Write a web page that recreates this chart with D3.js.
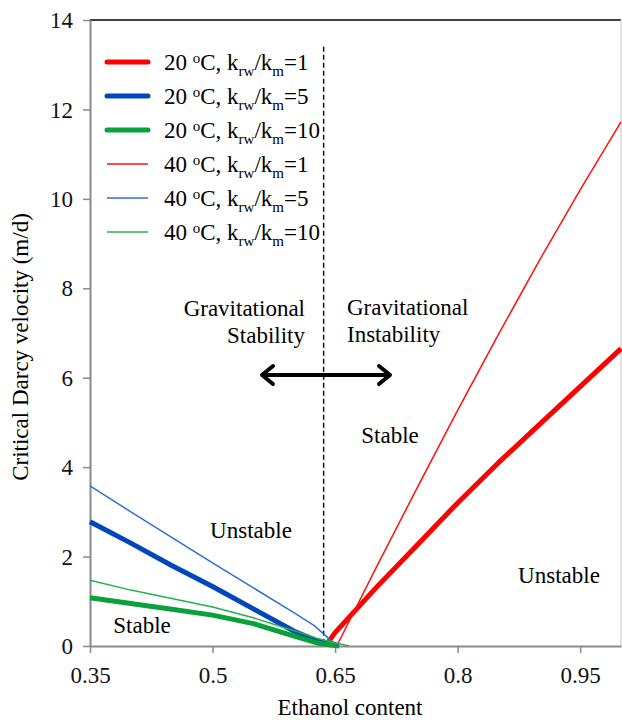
<!DOCTYPE html>
<html>
<head>
<meta charset="utf-8">
<script src="https://cdn.jsdelivr.net/npm/d3@7"></script>
<style>
  body { margin: 0; background: #fff; }
  svg { display: block; font-family: "Liberation Serif", "DejaVu Serif", serif; }
  svg text { font-family: "Liberation Serif", "DejaVu Serif", serif; }
</style>
</head>
<body>
<svg class="chart"></svg>
<script>
// tick values
const xTicks = [0.35, 0.5, 0.65, 0.8, 0.95];
const yTicks = [0, 2, 4, 6, 8, 10, 12, 14];

// 20 oC curves
const x20k1 = [0.641, 0.65, 0.7, 0.75, 0.8, 0.85, 0.9, 0.95, 1.0];
const y20k1 = [0.07, 0.3, 1.3, 2.25, 3.2, 4.1, 4.95, 5.8, 6.65];
const x20k5 = [0.35, 0.4, 0.45, 0.5, 0.55, 0.6, 0.63, 0.645];
const y20k5 = [2.78, 2.3, 1.8, 1.33, 0.83, 0.33, 0.1, 0.02];
const x20k10 = [0.35, 0.4, 0.45, 0.5, 0.55, 0.6, 0.63, 0.655];
const y20k10 = [1.08, 0.95, 0.82, 0.69, 0.5, 0.22, 0.06, 0.0];

// 40 oC curves
const x40k1 = [0.652, 0.7, 0.75, 0.8, 0.85, 0.9, 0.95, 1.0];
const y40k1 = [0.0, 1.74, 3.52, 5.27, 6.97, 8.62, 10.2, 11.72];
const x40k5 = [0.35, 0.4, 0.45, 0.5, 0.55, 0.6, 0.625, 0.645, 0.655];
const y40k5 = [3.58, 3.0, 2.43, 1.86, 1.3, 0.74, 0.45, 0.12, 0.0];
const x40k10 = [0.35, 0.4, 0.45, 0.5, 0.55, 0.6, 0.63, 0.667];
const y40k10 = [1.47, 1.25, 1.06, 0.87, 0.63, 0.34, 0.16, 0.0];

const seriesList = [
  {temp: "20", ratio: "1", xs: x20k1, ys: y20k1, color: "#ff0000", w: 5},
  {temp: "20", ratio: "5", xs: x20k5, ys: y20k5, color: "#0047bf", w: 5},
  {temp: "20", ratio: "10", xs: x20k10, ys: y20k10, color: "#0aa03c", w: 5},
  {temp: "40", ratio: "1", xs: x40k1, ys: y40k1, color: "#ff1010", w: 1.5},
  {temp: "40", ratio: "5", xs: x40k5, ys: y40k5, color: "#2c6fd8", w: 1.5},
  {temp: "40", ratio: "10", xs: x40k10, ys: y40k10, color: "#22b24a", w: 1.5}
];

// boundary between gravitational stability / instability
const boundaryX = 0.636;
const boundaryTop = 13.4;

var margin = {top: 20, right: 1, bottom: 74, left: 90},
    width = 622 - margin.left - margin.right,
    height = 720 - margin.top - margin.bottom;

var x = d3.scaleLinear().domain([0.35, 1.0]).range([0, width]);
var y = d3.scaleLinear().domain([0, 14]).range([height, 0]);

const svg = d3.select("svg.chart")
    .attr("width", 622)
    .attr("height", 720)
  .append("g")
    .attr("transform", "translate(" + margin.left + "," + margin.top + ")");

// frame: top dark, right light
svg.append("line")
    .attr("x1", 0).attr("x2", width).attr("y1", 0).attr("y2", 0)
    .style("stroke", "#404040").style("stroke-width", 2);
svg.append("line")
    .attr("x1", width).attr("x2", width).attr("y1", 0).attr("y2", height)
    .style("stroke", "#c8c8c8").style("stroke-width", 1);

// axes
var xAxis = svg.append("g")
    .attr("transform", "translate(0," + height + ")")
    .call(d3.axisBottom(x).tickValues(xTicks).tickSize(7).tickSizeOuter(0)
      .tickFormat(function(d) { return String(d); }));
var yAxis = svg.append("g")
    .call(d3.axisLeft(y).tickValues(yTicks).tickSize(7).tickSizeOuter(0));

[xAxis, yAxis].forEach(function(a) {
  a.attr("font-family", null).attr("font-size", null);
  a.select(".domain").style("stroke", "#8a8a8a").style("stroke-width", 2);
  a.selectAll(".tick line").style("stroke", "#8a8a8a").style("stroke-width", 1.5);
  a.selectAll(".tick text")
    .style("font-size", "23px")
    .style("fill", "#111");
});
xAxis.selectAll(".tick text").attr("dy", 0).attr("y", 37);
yAxis.selectAll(".tick text").attr("x", -17).attr("dy", "0.33em");

// axis titles
svg.append("text")
    .attr("x", 260)
    .attr("y", 695)
    .attr("text-anchor", "middle")
    .style("font-size", "23px")
    .text("Ethanol content");
svg.append("text")
    .attr("transform", "translate(-62,327) rotate(-90)")
    .attr("text-anchor", "middle")
    .style("font-size", "23px")
    .text("Critical Darcy velocity (m/d)");

// dashed boundary
svg.append("line")
    .attr("x1", x(boundaryX)).attr("x2", x(boundaryX))
    .attr("y1", y(boundaryTop)).attr("y2", y(0))
    .style("stroke", "#111").style("stroke-width", 1.5)
    .style("stroke-dasharray", "5,3");

// curves
var line = d3.line()
    .x(function(d) { return x(d[0]); })
    .y(function(d) { return y(d[1]); });

seriesList.forEach(function(s) {
  svg.append("path")
      .datum(d3.zip(s.xs, s.ys))
      .attr("d", line)
      .style("fill", "none")
      .style("stroke", s.color)
      .style("stroke-width", s.w)
      .style("stroke-linejoin", "round");
});

// region labels
function label(txt, px, py, anchor) {
  svg.append("text")
      .attr("x", px).attr("y", py)
      .attr("text-anchor", anchor || "middle")
      .style("font-size", "23px")
      .text(txt);
}
label("Gravitational", 215, 296, "end");
label("Stability", 215, 323, "end");
label("Gravitational", 257, 295, "start");
label("Instability", 257, 322, "start");
label("Unstable", 161, 518);
label("Stable", 52, 613);
label("Stable", 300, 423);
label("Unstable", 469, 563);

// double arrow
var ay = 355, ax1 = 172, ax2 = 300;
svg.append("line")
    .attr("x1", ax1 + 2).attr("x2", ax2 - 2).attr("y1", ay).attr("y2", ay)
    .style("stroke", "#000").style("stroke-width", 4);
svg.append("path")
    .attr("d", "M" + (ax1 + 11) + "," + (ay - 9) + "L" + ax1 + "," + ay + "L" + (ax1 + 11) + "," + (ay + 9))
    .style("fill", "none").style("stroke", "#000").style("stroke-width", 4)
    .style("stroke-linecap", "round").style("stroke-linejoin", "round");
svg.append("path")
    .attr("d", "M" + (ax2 - 11) + "," + (ay - 9) + "L" + ax2 + "," + ay + "L" + (ax2 - 11) + "," + (ay + 9))
    .style("fill", "none").style("stroke", "#000").style("stroke-width", 4)
    .style("stroke-linecap", "round").style("stroke-linejoin", "round");

// legend
var legend = svg.append("g").attr("transform", "translate(17,42)");
seriesList.forEach(function(s, i) {
  var g = legend.append("g").attr("transform", "translate(0," + (i * 34) + ")");
  g.append("line")
      .attr("x1", 0).attr("x2", 41).attr("y1", 0).attr("y2", 0)
      .style("stroke", s.color).style("stroke-width", s.w)
      .style("stroke-linecap", s.w > 2 ? "round" : "butt");
  var t = g.append("text").attr("x", 57).attr("y", 8).style("font-size", "23px");
  t.append("tspan").text(s.temp + " ");
  t.append("tspan").attr("dy", -7).style("font-size", "15px").text("o");
  t.append("tspan").attr("dy", 7).text("C, k");
  t.append("tspan").attr("dy", 6).style("font-size", "15px").text("rw");
  t.append("tspan").attr("dy", -6).text("/k");
  t.append("tspan").attr("dy", 6).style("font-size", "15px").text("m");
  t.append("tspan").attr("dy", -6).text("=" + s.ratio);
});
</script>
</body>
</html>
